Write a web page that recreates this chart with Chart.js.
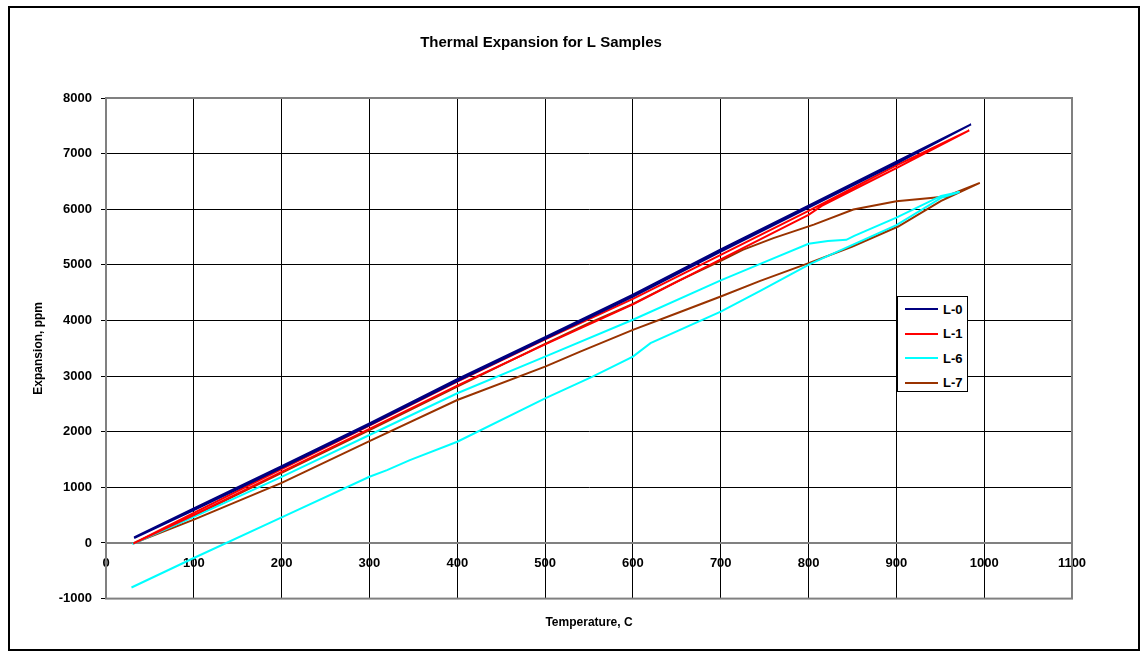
<!DOCTYPE html>
<html>
<head>
<meta charset="utf-8">
<title>Thermal Expansion for L Samples</title>
<script src="https://cdn.jsdelivr.net/npm/chart.js@4.4.0/dist/chart.umd.min.js"></script>
<style>
  html, body { margin: 0; padding: 0; background: #fff; }
  #wrap { position: relative; width: 1148px; height: 658px; }
  #frame { position: absolute; left: 8px; top: 6px; width: 1128px; height: 641px; border: 2px solid #000; pointer-events: none; }
  #legend { position: absolute; left: 897px; top: 296px; width: 71px; height: 96px; box-sizing: border-box;
            border: 1px solid #000; background: #fff; font: bold 13px "Liberation Sans", Arial, sans-serif; color: #000; }
  .item { display: flex; align-items: center; height: 24.5px; }
  .swatch { width: 33px; height: 2px; margin: 0 5px 0 7px; }
</style>
</head>
<body>
<div id="wrap">
  <canvas id="c" width="1148" height="658"></canvas>
  <div id="legend"></div>
  <div id="frame"></div>
</div>
<script>
// Dilatometer runs: temperature (C) and expansion (ppm), heating branch then cooling branch
const l0Temp = [32, 100, 200, 300, 400, 500, 600, 700, 800, 900, 985, 900, 800, 700, 600, 500, 400, 300, 200, 100, 32];
const l0Exp  = [100, 620, 1382, 2151, 2944, 3701, 4463, 5277, 6066, 6855, 7526, 6820, 6030, 5240, 4430, 3670, 2910, 2120, 1350, 590, 90];

const l1Temp = [31, 100, 200, 300, 400, 500, 600, 700, 800, 900, 983, 900, 815, 800, 700, 620, 600, 500, 400, 300, 200, 100, 31];
const l1Exp  = [-10, 540, 1330, 2110, 2900, 3660, 4390, 5180, 5970, 6790, 7418, 6740, 6060, 5900, 5100, 4450, 4290, 3570, 2830, 2050, 1280, 500, -10];

const l6Temp = [30, 100, 200, 300, 400, 500, 600, 700, 745, 800, 822, 843, 852, 900, 951, 972,
                951, 900, 802, 745, 700, 620, 600, 554, 500, 400, 346, 320, 300, 200, 100, 29];
const l6Exp  = [-20, 469, 1190, 1941, 2692, 3351, 4013, 4721, 5018, 5380, 5430, 5450, 5520, 5850, 6240, 6310,
                6205, 5715, 5018, 4532, 4160, 3592, 3351, 2991, 2601, 1820, 1490, 1310, 1190, 460, -270, -800];

const l7Temp = [32, 100, 200, 300, 400, 500, 550, 600, 650, 700, 725, 760, 806, 851, 900, 942, 957, 995,
                951, 902, 850, 801, 745, 700, 650, 600, 540, 500, 400, 300, 200, 100, 32];
const l7Exp  = [0, 490, 1260, 2030, 2810, 3580, 3950, 4300, 4700, 5070, 5270, 5480, 5724, 5995, 6144, 6207, 6234, 6475,
                6150, 5690, 5330, 5036, 4712, 4432, 4130, 3832, 3441, 3171, 2571, 1830, 1080, 420, 0];

const seriesNames  = ['L-0', 'L-1', 'L-6', 'L-7'];
const seriesColors = ['#000080', '#FF0000', '#00FFFF', '#993300'];
const seriesTemps  = [l0Temp, l1Temp, l6Temp, l7Temp];
const seriesExps   = [l0Exp, l1Exp, l6Exp, l7Exp];

const xTicks = { min: 0, max: 1100, step: 100 };
const yTicks = { min: -1000, max: 8000, step: 1000 };

const FONT = '"Liberation Sans", Arial, sans-serif';
const plainNumber = v => String(v);

const datasets = seriesNames.map((name, i) => ({
  label: name,
  data: seriesTemps[i].map((t, k) => ({ x: t, y: seriesExps[i][k] })),
  showLine: true,
  borderColor: seriesColors[i],
  backgroundColor: seriesColors[i],
  borderWidth: 2,
  pointRadius: 0,
  tension: 0,
  fill: false
}));

// gray frame around the plotting area
const plotFrame = {
  id: 'plotFrame',
  beforeDatasetsDraw(chart) {
    const { ctx, chartArea: a } = chart;
    ctx.save();
    ctx.strokeStyle = '#808080';
    ctx.lineWidth = 2;
    ctx.strokeRect(a.left, a.top, a.right - a.left, a.bottom - a.top);
    ctx.restore();
  }
};

const chart = new Chart(document.getElementById('c'), {
  type: 'scatter',
  data: { datasets },
  plugins: [plotFrame],
  options: {
    responsive: false,
    animation: false,
    events: [],
    layout: { padding: { left: 10, right: 76, top: 0, bottom: 0 } },
    plugins: {
      legend: { display: false },
      tooltip: { enabled: false },
      title: {
        display: true,
        text: 'Thermal Expansion for L Samples',
        color: '#000',
        font: { family: FONT, size: 15, weight: 'bold', lineHeight: 1.2 },
        padding: { top: 34, bottom: 46 }
      },
      subtitle: {
        display: true,
        position: 'bottom',
        fullSize: false,
        text: 'Temperature, C',
        color: '#000',
        font: { family: FONT, size: 12, weight: 'bold', lineHeight: 1.2 },
        padding: { top: 17, bottom: 28 }
      }
    },
    scales: {
      x: {
        type: 'linear',
        position: { y: 0 },
        min: xTicks.min,
        max: xTicks.max,
        ticks: { stepSize: xTicks.step, color: '#000', padding: 8, maxRotation: 0, callback: plainNumber,
                 font: { family: FONT, size: 13, weight: 'bold' } },
        grid: { color: '#000', lineWidth: 1, tickLength: 5 },
        border: { color: '#808080', width: 2 }
      },
      y: {
        type: 'linear',
        position: 'left',
        min: yTicks.min,
        max: yTicks.max,
        ticks: { stepSize: yTicks.step, color: '#000', padding: 9, callback: plainNumber,
                 font: { family: FONT, size: 13, weight: 'bold' } },
        grid: { color: '#000', lineWidth: 1, tickLength: 5 },
        border: { color: '#808080', width: 2 },
        title: { display: true, text: 'Expansion, ppm', color: '#000',
                 font: { family: FONT, size: 12, weight: 'bold', lineHeight: 1.2 },
                 padding: { top: 21, bottom: 0 } },
        afterFit(scale) { scale.width = 96; }
      }
    }
  }
});

// legend box built from the series definitions
const legendEl = document.getElementById('legend');
seriesNames.forEach((name, i) => {
  const item = document.createElement('div');
  item.className = 'item';
  const sw = document.createElement('span');
  sw.className = 'swatch';
  sw.style.background = seriesColors[i];
  const tx = document.createElement('span');
  tx.textContent = name;
  item.appendChild(sw);
  item.appendChild(tx);
  legendEl.appendChild(item);
});
</script>
</body>
</html>
